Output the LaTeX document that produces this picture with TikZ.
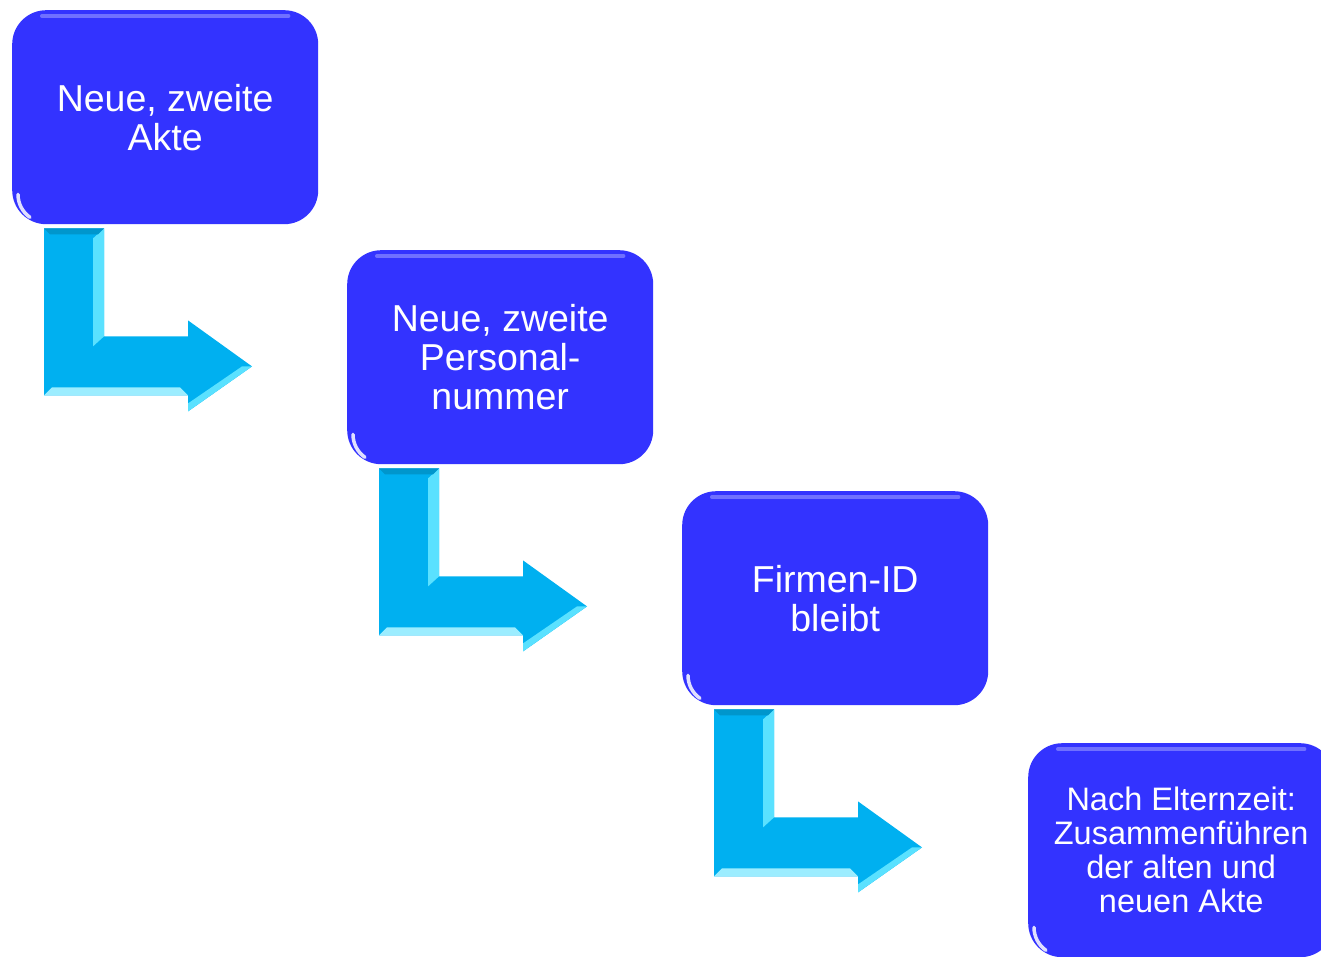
\documentclass[tikz,border=0pt]{standalone}
\usepackage{fontspec}
\setmainfont{Liberation Sans}
\begin{document}
\begin{tikzpicture}[x=1pt,y=-1pt,
  stepbox/.style={fill=boxblue, rounded corners=34pt, minimum width=306pt, minimum height=214pt,
    inner sep=0pt, text=white, align=center, anchor=north west},
  bigtext/.style={font=\fontsize{37.5}{39}\selectfont},
  smalltext/.style={font=\fontsize{32.5}{34}\selectfont},
  bentarrow/.style={fill=arrowblue},
  bevel/.style={fill=arrowlight},
  gloss/.style={white, opacity=0.3, line width=4pt, line cap=round}]
\definecolor{boxblue}{RGB}{51,51,255}
\definecolor{arrowblue}{RGB}{0,176,240}
\definecolor{arrowlight}{RGB}{90,225,255}
\useasboundingbox (0,0) rectangle (1321,957);
\clip (0,0) rectangle (1321,957);

\node[stepbox, bigtext] (a) at (12,10) {Neue, zweite\\Akte};
\node[stepbox, bigtext] (b) at (347,250) {Neue, zweite\\Personal-\\nummer};
\node[stepbox, bigtext] (c) at (682,491) {Firmen-ID\\bleibt};
\node[stepbox, smalltext] (d) at (1028,743) {Nach Elternzeit:\\Zusammenführen\\der alten und\\neuen Akte};

% gloss on boxes
\foreach \n in {a,b,c,d}{
  \draw[gloss] ([xshift=30pt,yshift=-6pt]\n.north west) -- ([xshift=-30pt,yshift=-6pt]\n.north east);
  \draw[white, opacity=0.85, line width=3.5pt, line cap=round]
    ([xshift=6pt,yshift=30pt]\n.south west) arc[start angle=180, end angle=235, radius=28pt];
}

% bent arrows
\foreach \n in {a,b,c}{
  \begin{scope}[shift={([xshift=32pt,yshift=-4pt]\n.south west)}]
    \fill[bentarrow] (0,0) -- (60,0) -- (60,108) -- (144,108) -- (144,92) -- (208,138)
       -- (144,183) -- (144,167) -- (0,167) -- cycle;
    \fill[bevel] (49,10) -- (60,0) -- (60,108) -- (49,118) -- cycle;
    \fill[arrowlight!60!white] (0,167) -- (144,167) -- (136,159) -- (8,159) -- cycle;
    \fill[bevel] (144,183) -- (208,138) -- (198,138) -- (144,175) -- cycle;
    \fill[arrowblue!85!black] (0,0) -- (60,0) -- (54,6) -- (6,6) -- cycle;
  \end{scope}
}
\end{tikzpicture}
\end{document}
